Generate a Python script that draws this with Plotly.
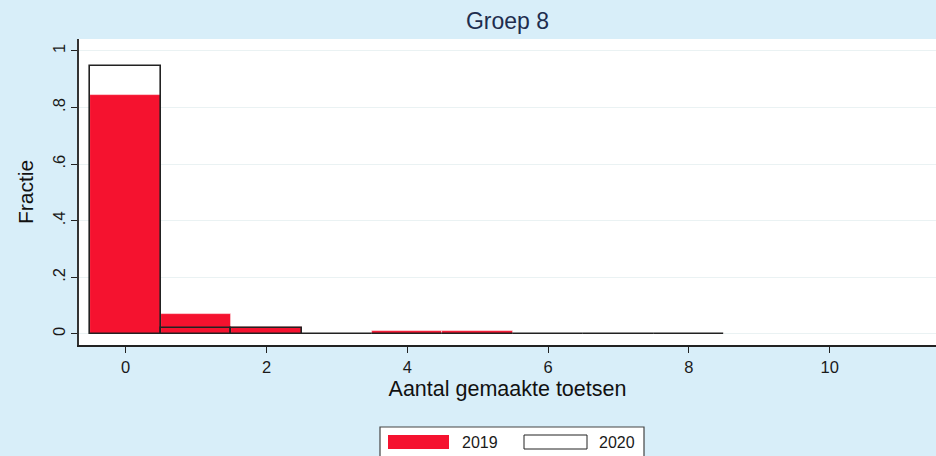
import plotly.graph_objects as go

# Data
toetsen = [0, 1, 2, 3, 4, 5, 6, 7, 8]
fractie_2019 = [0.845, 0.072, 0.026, 0.0, 0.011, 0.011, 0.0, 0.0, 0.0]
fractie_2020 = [0.947, 0.020, 0.020, 0.001, 0.001, 0.001, 0.001, 0.001, 0.001]
y_tickvals = [0, 0.2, 0.4, 0.6, 0.8, 1]
y_ticktext = ["0", ".2", ".4", ".6", ".8", "1"]
x_tickvals = [0, 2, 4, 6, 8, 10]
series_names = ["2019", "2020"]

RED = "#F5122F"
BG = "#D8EEF9"
FONT = "Liberation Sans, Arial, sans-serif"

W, H = 936, 456
L, R, T, B = 79, 0, 39, 111
PW, PH = W - L - R, H - T - B

def px(xp):
    return (xp - L) / PW

def py(yp):
    return (H - B - yp) / PH

fig = go.Figure()
fig.add_trace(go.Bar(
    x=toetsen, y=fractie_2019, name=series_names[0], width=1,
    marker=dict(color=RED, line=dict(color="rgba(255,255,255,0.7)", width=0.8)),
    showlegend=False,
))
fig.add_trace(go.Bar(
    x=toetsen, y=fractie_2020, name=series_names[1], width=1,
    marker=dict(color="rgba(0,0,0,0)", line=dict(color="#222222", width=1.6)),
    showlegend=False,
))

# Custom legend (box + swatches + labels)
shapes = [
    dict(type="rect", xref="paper", yref="paper", x0=px(380), x1=px(644), y0=py(470), y1=py(427),
         line=dict(color="#444444", width=1.2), fillcolor="white", layer="above"),
    dict(type="rect", xref="paper", yref="paper", x0=px(388), x1=px(449), y0=py(449), y1=py(435),
         line=dict(width=0), fillcolor=RED, layer="above"),
    dict(type="rect", xref="paper", yref="paper", x0=px(524), x1=px(587), y0=py(449), y1=py(435),
         line=dict(color="#222222", width=1), fillcolor="white", layer="above"),
]
annotations = [
    dict(text=series_names[0], xref="paper", yref="paper", x=px(460), y=py(442), xanchor="left",
         yanchor="middle", showarrow=False, font=dict(family=FONT, size=16, color="#1a1a1a")),
    dict(text=series_names[1], xref="paper", yref="paper", x=px(597), y=py(442), xanchor="left",
         yanchor="middle", showarrow=False, font=dict(family=FONT, size=16, color="#1a1a1a")),
]

fig.update_layout(
    width=W, height=H,
    margin=dict(l=L, r=R, t=T, b=B, pad=0),
    paper_bgcolor=BG, plot_bgcolor="white",
    barmode="overlay", bargap=0,
    font=dict(family=FONT, color="#1a1a1a"),
    title=dict(text="Groep 8", x=0.5, xref="paper", y=1 - 21 / H, yanchor="middle",
               font=dict(family=FONT, size=23, color="#1E2D4E")),
    shapes=shapes, annotations=annotations,
    showlegend=False,
)
fig.update_xaxes(
    range=[-0.663, 11.51], tickvals=x_tickvals, ticks="outside", ticklen=6, tickwidth=1.2,
    tickcolor="#222", showline=True, linecolor="#222", linewidth=1.5, showgrid=False, zeroline=False,
    tickfont=dict(size=16.5, color="#1a1a1a"),
    title=dict(text="Aantal gemaakte toetsen", font=dict(size=21.5, color="#111"), standoff=6),
)
fig.update_yaxes(
    range=[-0.0389, 1.042], tickvals=y_tickvals, ticktext=y_ticktext, tickangle=-90,
    ticks="outside", ticklen=6, tickwidth=1.2, tickcolor="#222", showline=True, linecolor="#333",
    linewidth=1.5, showgrid=True, gridcolor="#EAF2F3", gridwidth=1.2, zeroline=False,
    tickfont=dict(size=16.5, color="#1a1a1a"),
    title=dict(text="Fractie", font=dict(size=21, color="#111"), standoff=10),
)

fig.write_html("out.html", post_script="document.body.style.margin='0';",
               config={"displayModeBar": False})
